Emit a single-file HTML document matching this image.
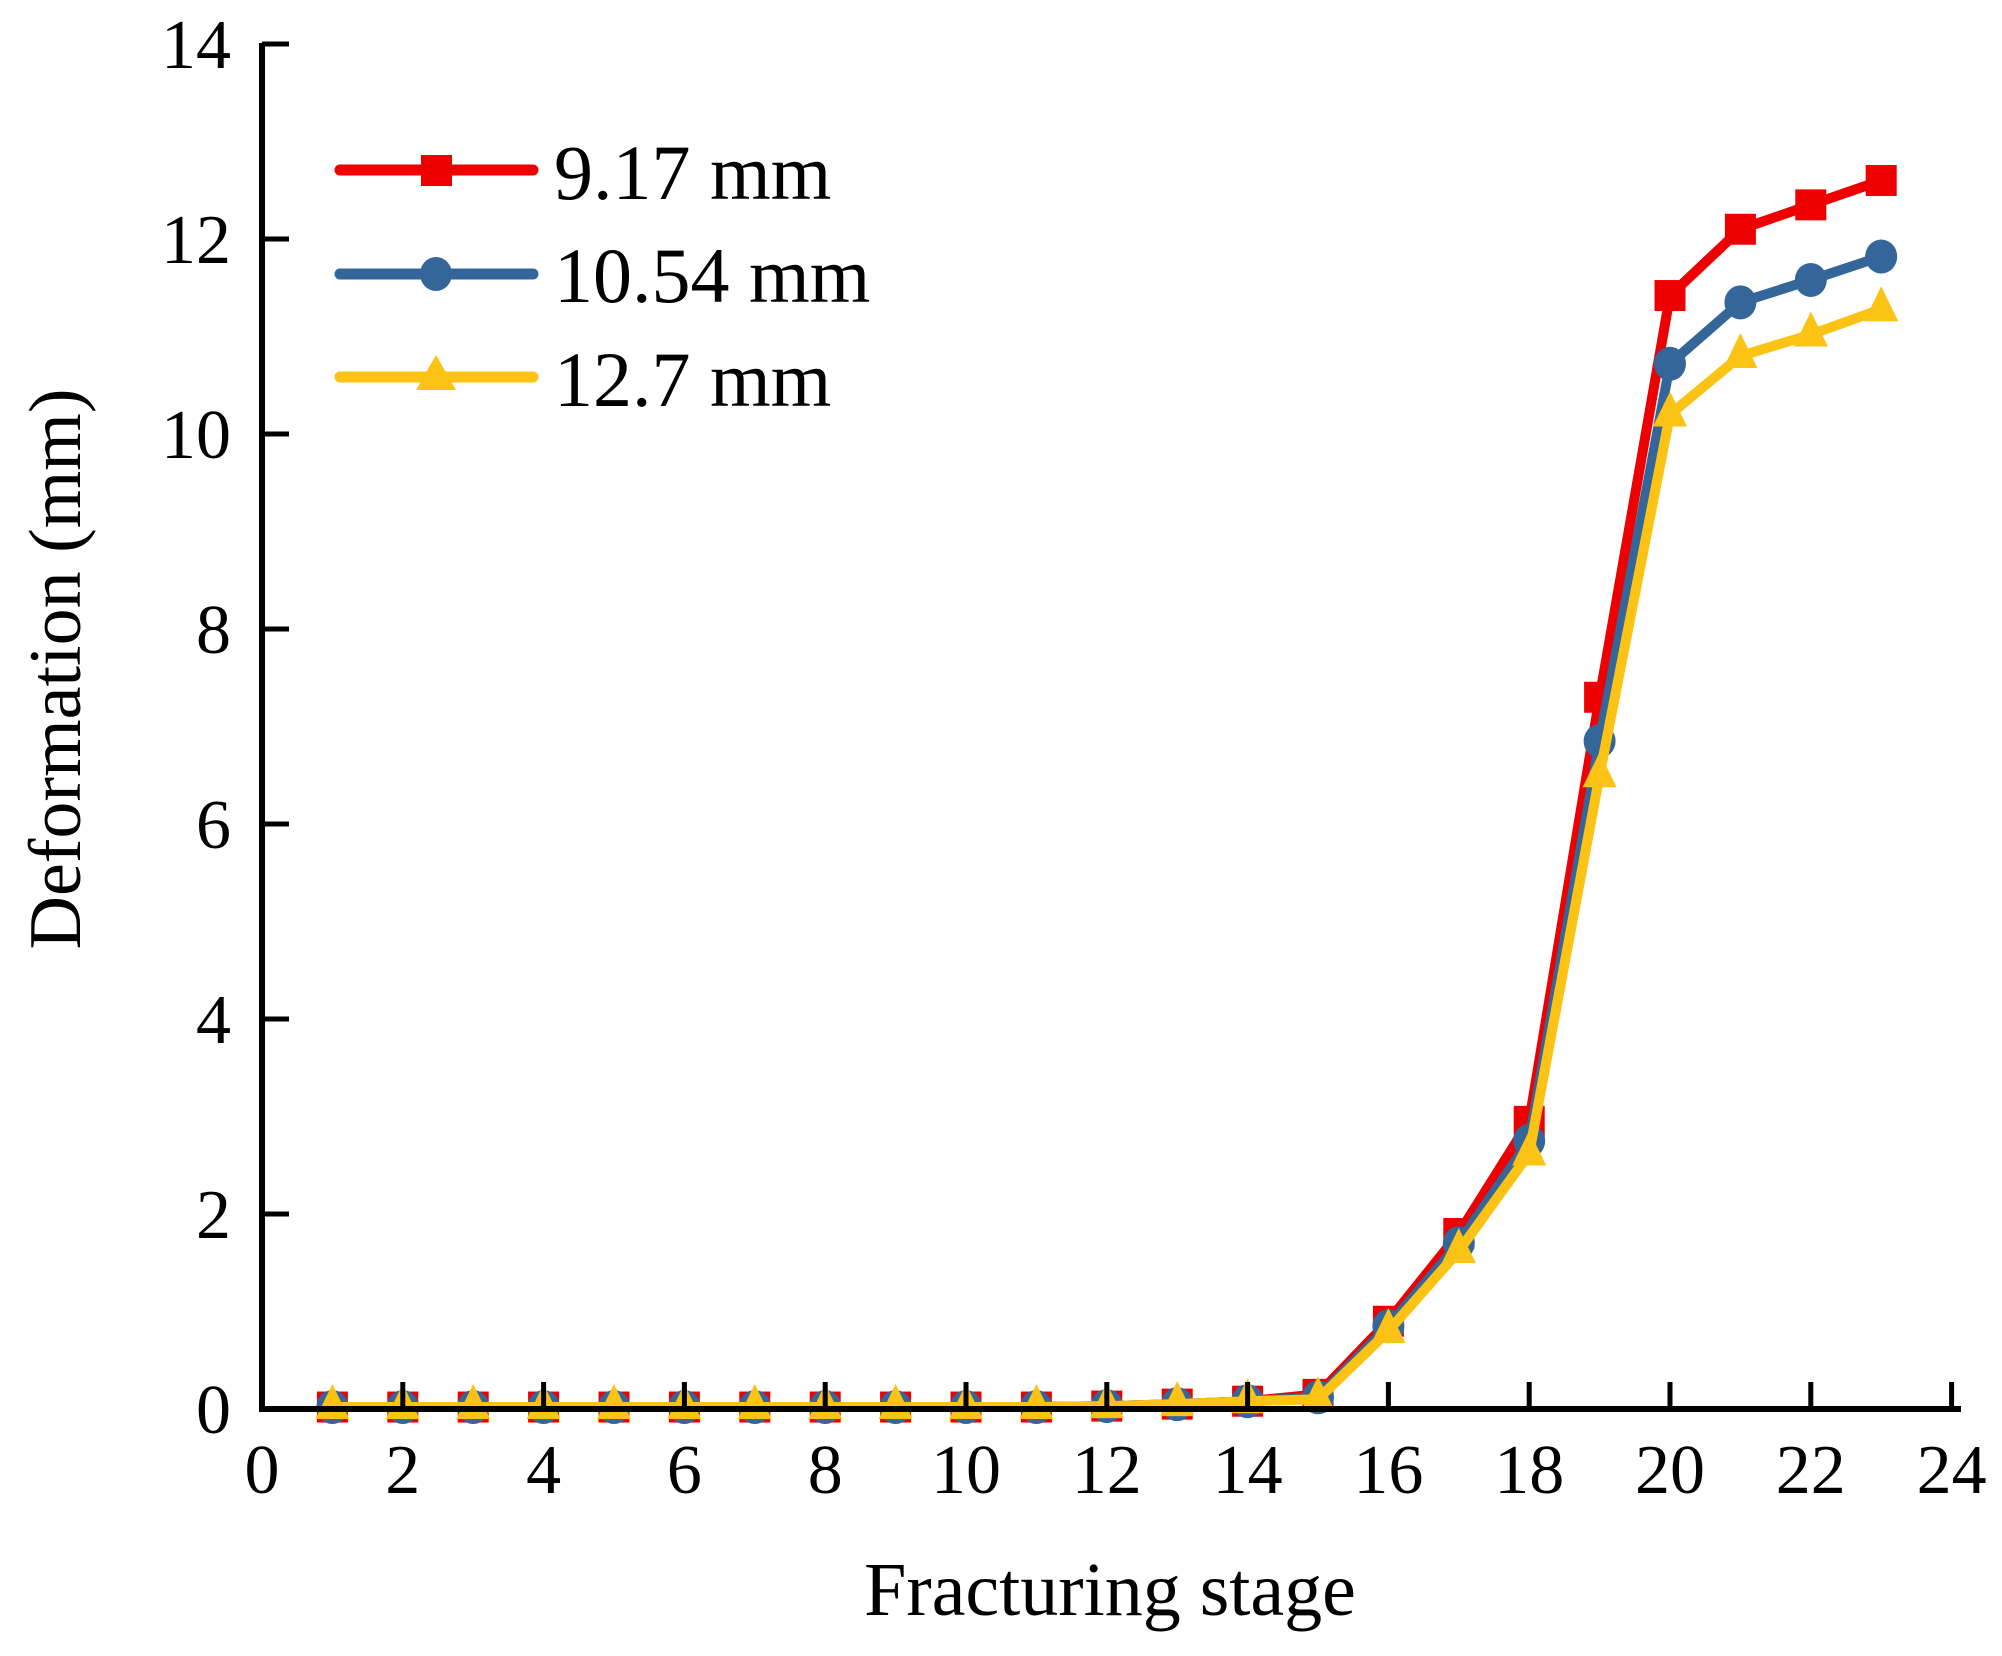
<!DOCTYPE html>
<html><head><meta charset="utf-8"><style>
html,body{margin:0;padding:0;background:#fff;}
svg{display:block;}
text{font-family:"Liberation Serif",serif;fill:#000;}
</style></head><body>
<svg width="2002" height="1656" viewBox="0 0 2002 1656" xmlns="http://www.w3.org/2000/svg">
<g id="series"></g>
<g stroke="#000" stroke-width="6" fill="none">
<line x1="262" y1="43" x2="262" y2="1412"/>
<line x1="259" y1="1409" x2="1961" y2="1409"/>
</g>
<g id="ticks" stroke="#000" stroke-width="5"></g>
<g id="labels" font-size="70"></g>
<text x="80" y="669" font-size="74" text-anchor="middle" transform="rotate(-90 80 669)" dominant-baseline="auto">Deformation (mm)</text>
<text x="1110" y="1615" font-size="76" text-anchor="middle">Fracturing stage</text>
<g>
<line x1="340" y1="170" x2="533" y2="170" stroke="#ee0000" stroke-width="11" stroke-linecap="round"/>
<rect x="421" y="155" width="31" height="31" fill="#ee0000"/>
<line x1="340" y1="274" x2="533" y2="274" stroke="#356699" stroke-width="11" stroke-linecap="round"/>
<ellipse cx="436" cy="274" rx="16" ry="17" fill="#356699"/>
<line x1="340" y1="377" x2="533" y2="377" stroke="#fcc314" stroke-width="11" stroke-linecap="round"/>
<polygon points="436,355 416,390 456,390" fill="#fcc314"/>
<text x="554" y="199" font-size="78">9.17 mm</text>
<text x="554" y="302" font-size="78">10.54 mm</text>
<text x="554" y="406" font-size="78">12.7 mm</text>
</g>
<script>
const X=s=>262+s*70.4, Y=v=>1409-v*97.5;
const ns="http://www.w3.org/2000/svg";
const t=document.getElementById('ticks'), l=document.getElementById('labels');
for(let i=0;i<=24;i+=2){
 if(i>0){const a=document.createElementNS(ns,'line');a.setAttribute('x1',X(i));a.setAttribute('x2',X(i));a.setAttribute('y1',1409);a.setAttribute('y2',1382);t.appendChild(a);}
 const tx=document.createElementNS(ns,'text');tx.setAttribute('x',X(i));tx.setAttribute('y',1493);tx.setAttribute('text-anchor','middle');tx.textContent=i;l.appendChild(tx);
}
for(let v=0;v<=14;v+=2){
 if(v>0){const a=document.createElementNS(ns,'line');a.setAttribute('x1',262);a.setAttribute('x2',289);a.setAttribute('y1',Y(v));a.setAttribute('y2',Y(v));t.appendChild(a);}
 const tx=document.createElementNS(ns,'text');tx.setAttribute('x',231);tx.setAttribute('y',Y(v)+24);tx.setAttribute('text-anchor','end');tx.textContent=v;l.appendChild(tx);
}
const base=[0.02,0.02,0.02,0.02,0.02,0.02,0.02,0.02,0.02,0.02,0.02,0.03,0.05,0.08];
const data=[
 {c:'#ee0000',m:'s',v:base.concat([0.15,0.9,1.8,2.95,7.3,11.42,12.1,12.35,12.6])},
 {c:'#356699',m:'c',v:base.concat([0.12,0.85,1.7,2.75,6.85,10.72,11.35,11.58,11.82])},
 {c:'#fcc314',m:'t',v:base.concat([0.1,0.8,1.62,2.62,6.5,10.2,10.8,11.02,11.28])}
];
const g=document.getElementById('series');
data.forEach(d=>{
 const p=document.createElementNS(ns,'polyline');
 p.setAttribute('points',d.v.map((v,i)=>X(i+1)+','+Y(v)).join(' '));
 p.setAttribute('fill','none');p.setAttribute('stroke',d.c);p.setAttribute('stroke-width','10');p.setAttribute('stroke-linejoin','round');
 g.appendChild(p);
 d.v.forEach((v,i)=>{
  const x=X(i+1),y=Y(v);let e;
  if(d.m=='s'){e=document.createElementNS(ns,'rect');e.setAttribute('x',x-15.5);e.setAttribute('y',y-15.5);e.setAttribute('width',31);e.setAttribute('height',31);}
  else if(d.m=='c'){e=document.createElementNS(ns,'ellipse');e.setAttribute('cx',x);e.setAttribute('cy',y);e.setAttribute('rx',16);e.setAttribute('ry',17);}
  else{e=document.createElementNS(ns,'polygon');e.setAttribute('points',`${x},${y-23} ${x-17},${y+12} ${x+17},${y+12}`);}
  e.setAttribute('fill',d.c);g.appendChild(e);
 });
});
</script>
</svg>
</body></html>
